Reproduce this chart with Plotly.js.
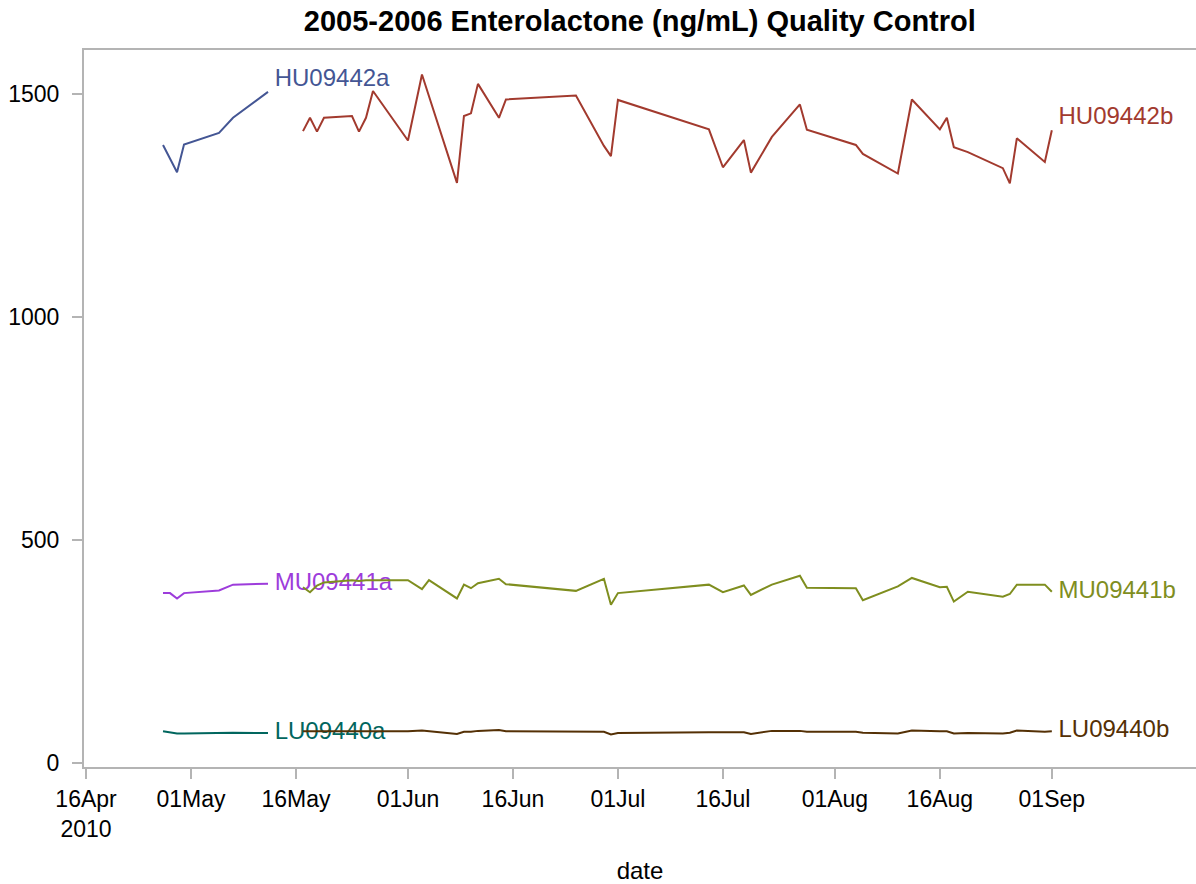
<!DOCTYPE html>
<html>
<head>
<meta charset="utf-8">
<script src="https://cdn.plot.ly/plotly-3.0.1.min.js"></script>
<style>html,body{margin:0;padding:0;background:#fff;}#chart{width:1196px;height:884px;}</style>
</head>
<body>
<div id="chart"></div>
<script>
// ---- data ----
var datesA = ['2010-04-27','2010-04-28','2010-04-29','2010-04-30','2010-05-05','2010-05-07','2010-05-12'];
var HU09442a = [1386, 1355, 1325, 1387, 1413, 1447, 1505];
var MU09441a = [381, 381, 369, 381, 387, 400, 402];
var LU09440a = [71, 68, 66, 66, 68, 68, 67];

var datesB = ['2010-05-17','2010-05-18','2010-05-19','2010-05-20','2010-05-24','2010-05-25','2010-05-26','2010-05-27',
  '2010-06-01','2010-06-03','2010-06-08','2010-06-09','2010-06-10','2010-06-11','2010-06-14','2010-06-15',
  '2010-06-25','2010-06-29','2010-06-30','2010-07-01','2010-07-14','2010-07-16','2010-07-19','2010-07-20',
  '2010-07-23','2010-07-27','2010-07-28','2010-08-04','2010-08-05','2010-08-10','2010-08-12','2010-08-16',
  '2010-08-17','2010-08-18','2010-08-20','2010-08-25','2010-08-26','2010-08-27','2010-08-31','2010-09-01'];
var HU09442b = [1417, 1447, 1416, 1447, 1451, 1416, 1447, 1507,
  1396, 1544, 1301, 1451, 1457, 1523, 1447, 1488,
  1497, 1384, 1361, 1487, 1421, 1336, 1397, 1324,
  1404, 1477, 1420, 1386, 1366, 1322, 1488, 1421,
  1447, 1381, 1370, 1334, 1300, 1401, 1348, 1419];
var LU09440b = [71, 71, 71, 71, 72, 72, 72, 72,
  71, 73, 65, 70, 70, 72, 74, 71,
  71, 70, 64, 67, 69, 69, 69, 65,
  72, 72, 70, 70, 68, 66, 73, 71,
  71, 66, 67, 66, 68, 73, 70, 71];

var datesMUb = ['2010-05-17','2010-05-18','2010-05-19','2010-05-20','2010-05-24','2010-05-25','2010-05-26','2010-05-27',
  '2010-06-01','2010-06-03','2010-06-04','2010-06-08','2010-06-09','2010-06-10','2010-06-11','2010-06-14','2010-06-15',
  '2010-06-25','2010-06-29','2010-06-30','2010-07-01','2010-07-14','2010-07-16','2010-07-19','2010-07-20',
  '2010-07-23','2010-07-27','2010-07-28','2010-08-04','2010-08-05','2010-08-10','2010-08-12','2010-08-16',
  '2010-08-17','2010-08-18','2010-08-20','2010-08-25','2010-08-26','2010-08-27','2010-08-31','2010-09-01'];
var MU09441b = [394, 383, 398, 405, 410, 408, 410, 410,
  410, 390, 410, 369, 400, 392, 403, 413, 401,
  386, 413, 355, 381, 400, 383, 398, 377,
  400, 420, 393, 392, 365, 396, 415, 394,
  395, 362, 384, 373, 379, 400, 400, 384];

var tickVals = ['2010-04-16','2010-05-01','2010-05-16','2010-06-01','2010-06-16','2010-07-01','2010-07-16','2010-08-01','2010-08-16','2010-09-01'];
var tickText = ['16Apr<br>2010','01May','16May','01Jun','16Jun','01Jul','16Jul','01Aug','16Aug','01Sep'];
var yTicks = [0, 500, 1000, 1500];

var seriesList = [
  {name:'HU09442a', x:datesA, y:HU09442a, color:'#445694', pos:'top right'},
  {name:'HU09442b', x:datesB, y:HU09442b, color:'#A23A2E', pos:'top right'},
  {name:'LU09440a', x:datesA, y:LU09440a, color:'#01665E', pos:'middle right'},
  {name:'LU09440b', x:datesB, y:LU09440b, color:'#543005', pos:'middle right'},
  {name:'MU09441a', x:datesA, y:MU09441a, color:'#9D3CDB', pos:'middle right'},
  {name:'MU09441b', x:datesMUb, y:MU09441b, color:'#7F8E1F', pos:'middle right'}
];

var FONT = 'Liberation Sans, Arial, sans-serif';
var traces = [];
// labels first (drawn under the lines)
seriesList.forEach(function(s){
  var n = s.x.length;
  traces.push({
    type:'scatter', mode:'text',
    x:[s.x[n-1]], y:[s.y[n-1]],
    text:[' ' + s.name], textposition:s.pos,
    textfont:{family:FONT, size:24, color:s.color},
    cliponaxis:false, hoverinfo:'skip', showlegend:false
  });
});
seriesList.forEach(function(s){
  traces.push({
    type:'scatter', mode:'lines', name:s.name,
    x:s.x, y:s.y,
    line:{color:s.color, width:2},
    hoverinfo:'skip', showlegend:false
  });
});

var layout = {
  width:1196, height:884,
  margin:{l:84, r:0, t:50, b:117},
  paper_bgcolor:'#ffffff', plot_bgcolor:'#ffffff',
  showlegend:false,
  font:{family:FONT, color:'#000'},
  title:{
    text:'2005-2006 Enterolactone (ng/mL) Quality Control',
    font:{family:FONT, size:29, weight:'bold', color:'#000'},
    x:0.535, xanchor:'center', xref:'container',
    y:1 - 21/884, yanchor:'middle', yref:'container'
  },
  xaxis:{
    type:'date',
    range:['2010-04-15 17:00','2010-09-21 14:24'],
    tickmode:'array', tickvals:tickVals, ticktext:tickText,
    ticks:'outside', ticklen:10, tickwidth:2, tickcolor:'#b4b4b4',
    showline:true, linecolor:'#b4b4b4', linewidth:2, mirror:true,
    showgrid:false, zeroline:false,
    tickfont:{family:FONT, size:23, color:'#000'},
    title:{text:'date', font:{family:FONT, size:24, color:'#000'}, standoff:22}
  },
  yaxis:{
    range:[-9, 1599],
    tickmode:'array', tickvals:yTicks, ticktext:yTicks.map(String),
    ticks:'outside', ticklen:10, tickwidth:2, tickcolor:'#b4b4b4',
    ticklabelstandoff:8,
    showline:true, linecolor:'#b4b4b4', linewidth:2, mirror:true,
    showgrid:false, zeroline:false,
    tickfont:{family:FONT, size:23, color:'#000'}
  }
};

Plotly.newPlot('chart', traces, layout, {displayModeBar:false, staticPlot:true});
</script>
</body>
</html>
